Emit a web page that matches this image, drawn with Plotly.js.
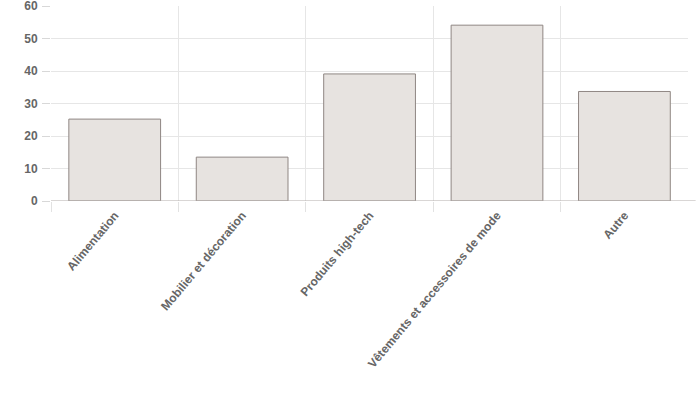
<!DOCTYPE html>
<html>
<head>
<meta charset="utf-8">
<script src="https://cdn.plot.ly/plotly-3.0.1.min.js"></script>
<style>html,body{margin:0;padding:0;background:#fff;}#chart{width:696px;height:400px;}</style>
</head>
<body>
<div id="chart"></div>
<script>
const categories = ["Alimentation", "Mobilier et décoration", "Produits high-tech", "Vêtements et accessoires de mode", "Autre"];
const values = [25.2, 13.5, 39.1, 54.1, 33.7];
const yTicks = [0, 10, 20, 30, 40, 50, 60];

const trace = {
  type: "bar",
  x: categories,
  y: values,
  marker: {color: "#e7e3e0", line: {color: "#8f8683", width: 1}},
  hoverinfo: "x+y"
};

const layout = {
  width: 696, height: 400,
  margin: {l: 51, r: 7.5, t: 5.5, b: 198.5},
  paper_bgcolor: "#fff", plot_bgcolor: "#fff",
  bargap: 0.28,
  showlegend: false,
  font: {family: "Liberation Sans, Arial, sans-serif", color: "#666"},
  xaxis: {
    type: "category",
    range: [-0.5, 4.499],
    tickson: "boundaries",
    ticks: "outside", ticklen: 10, tickcolor: "#e2e2e2", tickwidth: 1,
    showgrid: true, gridcolor: "#e6e6e6", gridwidth: 1,
    showline: false, zeroline: false,
    tickangle: -50,
    ticklabelstandoff: 4,
    tickfont: {size: 12, color: "#666", weight: "bold"}
  },
  yaxis: {
    range: [0, 60],
    tickvals: yTicks,
    ticks: "outside", ticklen: 8, tickcolor: "#d8d8d8", tickwidth: 1,
    showgrid: true, gridcolor: "#e6e6e6", gridwidth: 1,
    showline: false, zeroline: false,
    ticklabeloverflow: "allow",
    tickfont: {size: 12, color: "#666", weight: "bold"},
    ticklabelstandoff: 2
  },
  shapes: [
    {type: "line", xref: "paper", yref: "y", x0: 0, x1: 1.012, y0: 0, y1: 0, line: {color: "#b3acaa", width: 1}}
  ]
};

Plotly.newPlot("chart", [trace], layout, {displayModeBar: false, staticPlot: true});
</script>
</body>
</html>
